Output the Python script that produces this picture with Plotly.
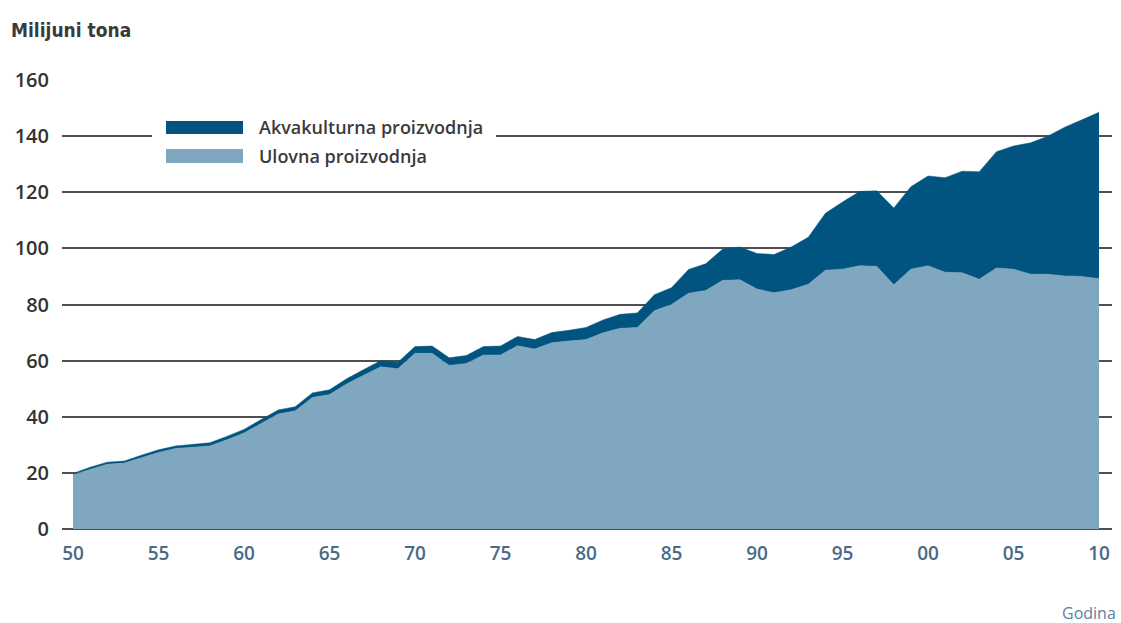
import plotly.graph_objects as go

# ---- data (million tonnes) ----
years = list(range(1950, 2011))
capture = [
    19.3, 21.3, 23.1, 23.5, 25.5, 27.3, 28.7, 29.2, 29.6, 31.8,   # 1950-59
    34.2, 37.6, 41.0, 42.1, 46.9, 47.9, 51.7, 54.8, 57.8, 57.1,   # 1960-69
    62.6, 62.6, 58.3, 59.0, 62.0, 62.0, 65.3, 64.1, 66.4, 67.0,   # 1970-79
    67.5, 69.9, 71.5, 71.8, 77.8, 80.0, 84.0, 85.0, 88.6, 88.8,   # 1980-89
    85.5, 84.2, 85.3, 87.2, 92.2, 92.6, 93.8, 93.6, 87.0, 92.6,   # 1990-99
    93.8, 91.5, 91.3, 89.0, 93.0, 92.6, 90.8, 90.8, 90.2, 90.0,   # 2000-09
    89.2,                                                         # 2010
]
aquaculture = [
    0.5, 0.7, 0.7, 0.7, 0.8, 0.9, 0.9, 1.0, 1.1, 1.2,
    1.3, 1.4, 1.4, 1.5, 1.6, 1.7, 1.8, 2.0, 2.2, 2.3,
    2.4, 2.6, 2.7, 2.8, 3.0, 3.2, 3.3, 3.4, 3.6, 3.8,
    4.3, 4.6, 5.0, 5.2, 5.7, 6.0, 8.5, 9.5, 11.2, 11.7,
    12.7, 13.6, 15.2, 16.8, 20.3, 23.9, 26.5, 26.9, 27.4, 29.4,
    32.0, 33.7, 36.2, 38.3, 41.4, 43.9, 46.8, 49.2, 53.0, 55.8,
    59.3,
]
x_tick_values = [1950, 1955, 1960, 1965, 1970, 1975, 1980, 1985, 1990, 1995, 2000, 2005, 2010]
x_tick_labels = ["50", "55", "60", "65", "70", "75", "80", "85", "90", "95", "00", "05", "10"]
y_tick_values = [0, 20, 40, 60, 80, 100, 120, 140, 160]

series_names = ["Akvakulturna proizvodnja", "Ulovna proizvodnja"]
y_title = "Milijuni tona"
x_title = "Godina"

# ---- style ----
DARK = "#01547f"
LIGHT = "#7fa8c0"
GRID = "#4f4f4f"
FONT = "Open Sans"

fig = go.Figure()
fig.add_trace(go.Scatter(
    x=years, y=capture, name=series_names[1], stackgroup="one", mode="lines",
    line=dict(width=0.5, color=LIGHT), fillcolor=LIGHT, showlegend=False,
))
fig.add_trace(go.Scatter(
    x=years, y=aquaculture, name=series_names[0], stackgroup="one", mode="lines",
    line=dict(width=0.5, color=DARK), fillcolor=DARK, showlegend=False,
))

# plot area in pixels: x 62..1112, y 80..529
L, R, T, B = 62, 1112, 80, 529
W, H = R - L, B - T


def px(xp):
    return (xp - L) / W


def py(yp):
    return (B - yp) / H


shapes = [
    dict(type="rect", xref="paper", yref="paper", x0=px(152), x1=px(496), y0=py(172), y1=py(114),
         fillcolor="white", line=dict(width=0), layer="above"),
    dict(type="rect", xref="paper", yref="paper", x0=px(166), x1=px(243), y0=py(134), y1=py(121),
         fillcolor=DARK, line=dict(width=0), layer="above"),
    dict(type="rect", xref="paper", yref="paper", x0=px(166), x1=px(243), y0=py(163), y1=py(149),
         fillcolor=LIGHT, line=dict(width=0), layer="above"),
]

annotations = [
    dict(text=series_names[0], xref="paper", yref="paper", x=px(257), y=py(127),
         xanchor="left", yanchor="middle", showarrow=False,
         font=dict(family=FONT, size=18, color="#3a3a3a", weight=600)),
    dict(text=series_names[1], xref="paper", yref="paper", x=px(257), y=py(156),
         xanchor="left", yanchor="middle", showarrow=False,
         font=dict(family=FONT, size=18, color="#3a3a3a", weight=600)),
    dict(text=y_title, xref="paper", yref="paper", x=px(9), y=py(30),
         xanchor="left", yanchor="middle", showarrow=False,
         font=dict(family="DejaVu Sans Condensed", size=19, color="#3a3a3a", weight="bold")),
    dict(text=x_title, xref="paper", yref="paper", x=px(1118), y=py(613),
         xanchor="right", yanchor="middle", showarrow=False,
         font=dict(family=FONT, size=16, color="#5b80a3")),
]

fig.update_layout(
    width=1121, height=623,
    margin=dict(l=L, r=1121 - R, t=T, b=623 - B, autoexpand=False),
    paper_bgcolor="white", plot_bgcolor="white",
    showlegend=False,
    shapes=shapes, annotations=annotations,
    xaxis=dict(
        range=[1950 - (73 - L) / 17.1, 2010 + (R - 1099) / 17.1],
        tickmode="array", tickvals=x_tick_values, ticktext=x_tick_labels,
        showgrid=False, zeroline=False, showline=False, ticks="",
        tickfont=dict(family=FONT, size=19, color="#4b6a86", weight=600),
        ticklabelstandoff=11,
    ),
    yaxis=dict(
        range=[0, 160],
        tickmode="array", tickvals=y_tick_values,
        showgrid=True, gridcolor=GRID, gridwidth=2,
        zeroline=True, zerolinecolor=GRID, zerolinewidth=2,
        showline=False, ticks="",
        tickfont=dict(family=FONT, size=20, color="#333333", weight=600),
        ticklabelstandoff=12,
    ),
)

fig.write_html(
    "out.html",
    config={"displayModeBar": False},
    post_script="document.body.style.margin='0px';document.body.style.overflow='hidden';",
)
